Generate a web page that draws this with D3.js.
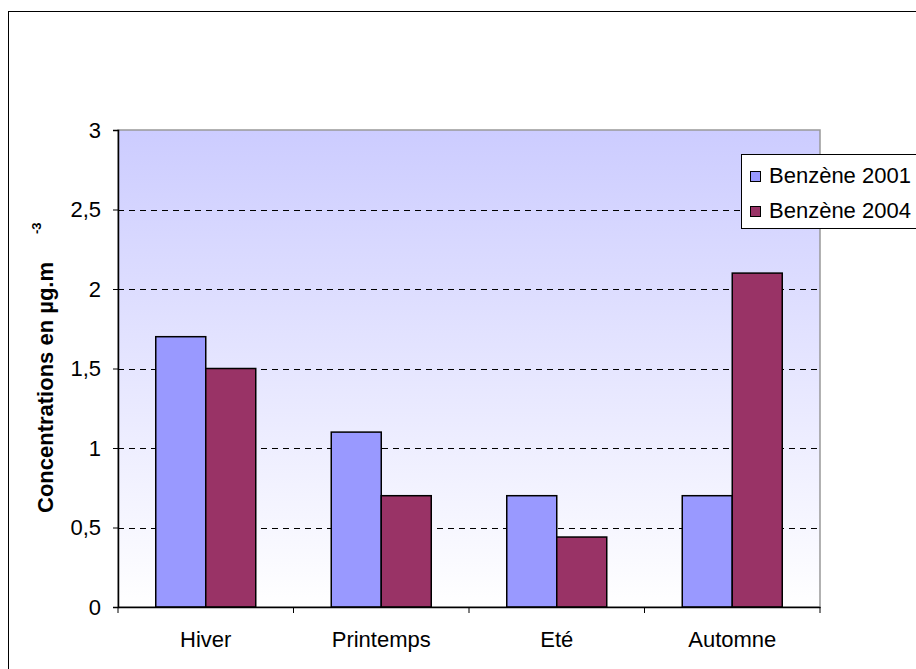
<!DOCTYPE html>
<html>
<head>
<meta charset="utf-8">
<script src="https://cdn.jsdelivr.net/npm/d3@7"></script>
<style>
  html, body { margin: 0; padding: 0; background: #fff; }
  svg { display: block; font-family: "Liberation Sans", Arial, sans-serif; }
</style>
</head>
<body>
<svg id="chart" width="916" height="669"></svg>
<script>
// Seasonal benzene concentrations (µg.m-3)
const seasons = ["Hiver", "Printemps", "Eté", "Automne"];
const seriesNames = ["Benzène 2001", "Benzène 2004"];
const values2001 = [1.7, 1.1, 0.7, 0.7];
const values2004 = [1.5, 0.7, 0.44, 2.1];
const yTicks = [0, 0.5, 1, 1.5, 2, 2.5, 3];
const yTickLabels = ["0", "0,5", "1", "1,5", "2", "2,5", "3"];
const seriesColors = ["#9999FF", "#993366"];

const rows = seasons.map((s, i) => ({ season: s, vals: [values2001[i], values2004[i]] }));

const svg = d3.select("#chart");
const plot = { left: 118, right: 820, top: 130, bottom: 607 };
const FONT = 22;

// Outer chart frame
svg.append("rect")
  .attr("x", 8.5).attr("y", 11.5)
  .attr("width", 1000).attr("height", 1000)
  .attr("fill", "#fff").attr("stroke", "#000").attr("stroke-width", 1);

// Plot background gradient
const defs = svg.append("defs");
const grad = defs.append("linearGradient")
  .attr("id", "plotBg").attr("x1", 0).attr("y1", 0).attr("x2", 0).attr("y2", 1);
grad.append("stop").attr("offset", "0%").attr("stop-color", "#CCCCFF");
grad.append("stop").attr("offset", "100%").attr("stop-color", "#FFFFFF");

const x = d3.scaleBand().domain(seasons).range([plot.left, plot.right]).paddingInner(0).paddingOuter(0);
const xs = d3.scaleBand().domain(seriesNames).range([0, x.bandwidth()]).paddingInner(0).paddingOuter(0.755);
const y = d3.scaleLinear().domain([0, 3]).range([plot.bottom, plot.top]);

svg.append("rect")
  .attr("x", plot.left).attr("y", plot.top)
  .attr("width", plot.right - plot.left).attr("height", plot.bottom - plot.top)
  .attr("fill", "url(#plotBg)")
  .attr("stroke", "#999").attr("stroke-width", 1.5);

// Dashed gridlines
svg.append("g").selectAll("line")
  .data(yTicks.filter(t => t > 0 && t < 3))
  .join("line")
  .attr("x1", plot.left).attr("x2", plot.right)
  .attr("y1", d => Math.round(y(d)) + 0.5).attr("y2", d => Math.round(y(d)) + 0.5)
  .attr("stroke", "#000").attr("stroke-width", 1)
  .attr("stroke-dasharray", "6,5");

// Bars
const groups = svg.append("g").selectAll("g")
  .data(rows).join("g")
  .attr("transform", d => `translate(${x(d.season)},0)`);
groups.selectAll("rect")
  .data(d => d.vals.map((v, i) => ({ name: seriesNames[i], v, i })))
  .join("rect")
  .attr("x", d => xs(d.name))
  .attr("width", xs.bandwidth())
  .attr("y", d => y(d.v))
  .attr("height", d => y(0) - y(d.v))
  .attr("fill", d => seriesColors[d.i])
  .attr("stroke", "#000").attr("stroke-width", 1.5);

// Y axis
const yAxis = d3.axisLeft(y).tickValues(yTicks)
  .tickFormat((d, i) => yTickLabels[i]).tickSize(5).tickPadding(12);
const gy = svg.append("g").attr("transform", `translate(${plot.left},0)`).call(yAxis);
gy.select(".domain").attr("stroke", "#000").attr("stroke-width", 1.5);
gy.selectAll(".tick line").attr("stroke", "#000");
gy.selectAll(".tick text").attr("font-size", FONT).attr("fill", "#000")
  .attr("font-family", "Liberation Sans, Arial, sans-serif");

// X axis with ticks at category boundaries
const xAxis = d3.axisBottom(x).tickSize(0).tickPadding(24);
const gx = svg.append("g").attr("transform", `translate(0,${plot.bottom})`).call(xAxis);
gx.select(".domain").attr("stroke", "#000").attr("stroke-width", 1.5);
gx.selectAll(".tick text").attr("font-size", FONT).attr("fill", "#000")
  .attr("font-family", "Liberation Sans, Arial, sans-serif");
const boundaries = seasons.map(s => x(s)).concat([x.range()[1]]);
svg.append("g").selectAll("line")
  .data(boundaries).join("line")
  .attr("x1", d => d).attr("x2", d => d)
  .attr("y1", plot.bottom).attr("y2", plot.bottom + 6)
  .attr("stroke", "#000").attr("stroke-width", 1);

// Y axis title with superscript
const title = svg.append("g").attr("transform", "rotate(-90)");
title.append("text")
  .attr("x", -513).attr("y", 53)
  .attr("font-size", FONT).attr("font-weight", "bold").attr("fill", "#000")
  .text("Concentrations en µg.m");
title.append("text")
  .attr("x", -234).attr("y", 41)
  .attr("font-size", 13).attr("font-weight", "bold").attr("fill", "#000")
  .text("-3");

// Legend
const legend = svg.append("g");
legend.append("rect")
  .attr("x", 741.5).attr("y", 154.5).attr("width", 300).attr("height", 74)
  .attr("fill", "#fff").attr("stroke", "#000").attr("stroke-width", 1);
const items = legend.selectAll("g.item")
  .data(seriesNames).join("g").attr("class", "item")
  .attr("transform", (d, i) => `translate(0,${176 + i * 35})`);
items.append("rect")
  .attr("x", 750.5).attr("y", -4.5).attr("width", 10).attr("height", 10)
  .attr("fill", (d, i) => seriesColors[i]).attr("stroke", "#000").attr("stroke-width", 1);
items.append("text")
  .attr("x", 769).attr("y", 0).attr("dy", "0.33em")
  .attr("font-size", FONT).attr("fill", "#000")
  .text(d => d);
</script>
</body>
</html>
